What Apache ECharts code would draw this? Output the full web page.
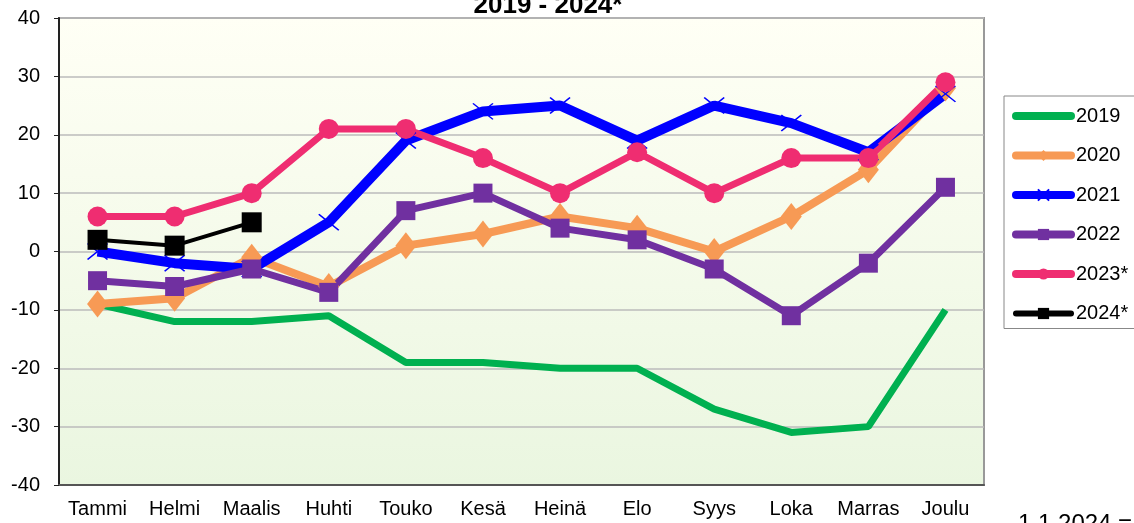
<!DOCTYPE html>
<html>
<head>
<meta charset="utf-8">
<script src="https://cdn.jsdelivr.net/npm/echarts@6/dist/echarts.min.js"></script>
<style>
    html,body{margin:0;padding:0;background:#fff;}
    #chart{width:1134px;height:523px;}
</style>
</head>
<body>
<div id="chart"></div>
<script>
    // kuukaudet
    var months = ['Tammi','Helmi','Maalis','Huhti','Touko','Kesä','Heinä','Elo','Syys','Loka','Marras','Joulu'];
    var yTicks = [-40,-30,-20,-10,0,10,20,30,40];

    var v2019 = [-9,-12,-12,-11,-19,-19,-20,-20,-27,-31,-30,-10];
    var v2020 = [-9,-8,-1,-6,1,3,6,4,0,6,14,28];
    var v2021 = [0,-2,-3,5,19,24,25,19,25,22,17,27];
    var v2022 = [-5,-6,-3,-7,7,10,4,2,-3,-11,-2,11];
    var v2023 = [6,6,10,21,21,16,10,17,10,16,16,29];
    var v2024 = [2,1,5];

    var font = 'Liberation Sans, Arial, sans-serif';

    function lineSeries(name,data,color,width,symbol,size,extra){
        var s = {
            name:name,
            type:'line',
            data:data,
            symbol:symbol,
            symbolSize:size,
            showSymbol:symbol!=='none',
            lineStyle:{color:color,width:width},
            itemStyle:{color:color},
            emphasis:{disabled:true},
            animation:false
        };
        if(extra){
            for(var k in extra){ s[k] = extra[k]; }
        }
        return s;
    }

    var chart = echarts.init(document.getElementById('chart'));
    chart.setOption({
        backgroundColor:'#fff',
        animation:false,
        title:{
            text:'2019 - 2024*',
            left:543,
            textAlign:'center',
            top:-12,
            textStyle:{fontFamily:font,fontSize:26,fontWeight:'bold',color:'#000'}
        },
        grid:{
            left:59,top:18,right:150,bottom:38,
            show:true,
            borderColor:'#999',
            borderWidth:2,
            backgroundColor:new echarts.graphic.LinearGradient(0,0,0,1,[
                {offset:0,color:'#fffff5'},
                {offset:1,color:'#eaf6e0'}
            ])
        },
        legend:{
            orient:'vertical',
            left:1004,
            top:96,
            padding:[10,10,5,8],
            itemWidth:55,
            itemHeight:14,
            itemGap:19.5,
            borderColor:'#888',
            borderWidth:1,
            backgroundColor:'#fff',
            lineStyle:{width:8,cap:'round'},
            textStyle:{fontFamily:font,fontSize:20,color:'#000'},
            data:[
                {name:'2019',itemStyle:{opacity:0}},
                '2020','2021','2022','2023*',
                {name:'2024*',lineStyle:{width:6}}
            ]
        },
        xAxis:{
            type:'category',
            data:months,
            boundaryGap:true,
            axisLine:{onZero:false,lineStyle:{color:'#555',width:2}},
            axisTick:{show:false},
            axisLabel:{fontFamily:font,fontSize:20,color:'#000',margin:14,interval:0}
        },
        yAxis:{
            type:'value',
            min:yTicks[0],
            max:yTicks[yTicks.length-1],
            interval:10,
            axisLine:{show:true,lineStyle:{color:'#222',width:2}},
            axisTick:{show:true,length:5,lineStyle:{color:'#222'}},
            axisLabel:{fontFamily:font,fontSize:20,color:'#000',margin:19},
            splitLine:{lineStyle:{color:'#bbb',width:1.5}}
        },
        graphic:[{
            type:'text',
            left:1018,
            top:512,
            style:{text:'1.1.2024 =100',fontFamily:font,fontSize:24,fill:'#000'}
        }],
        series:[
            lineSeries('2019',v2019,'#00b050',7,'none',0),
            lineSeries('2020',v2020,'#f79a55',8,'diamond',[21,27]),
            lineSeries('2021',v2021,'#0000ff',10,'path://M0,0L10,10M10,0L0,10',[20,16],{
                itemStyle:{color:'#0000ff',borderColor:'#0000ff',borderWidth:1.5}
            }),
            lineSeries('2022',v2022,'#7030a0',7,'rect',19),
            lineSeries('2023*',v2023,'#ef2d71',7,'circle',20),
            lineSeries('2024*',v2024,'#000000',4,'rect',20)
        ]
    });
</script>
</body>
</html>
